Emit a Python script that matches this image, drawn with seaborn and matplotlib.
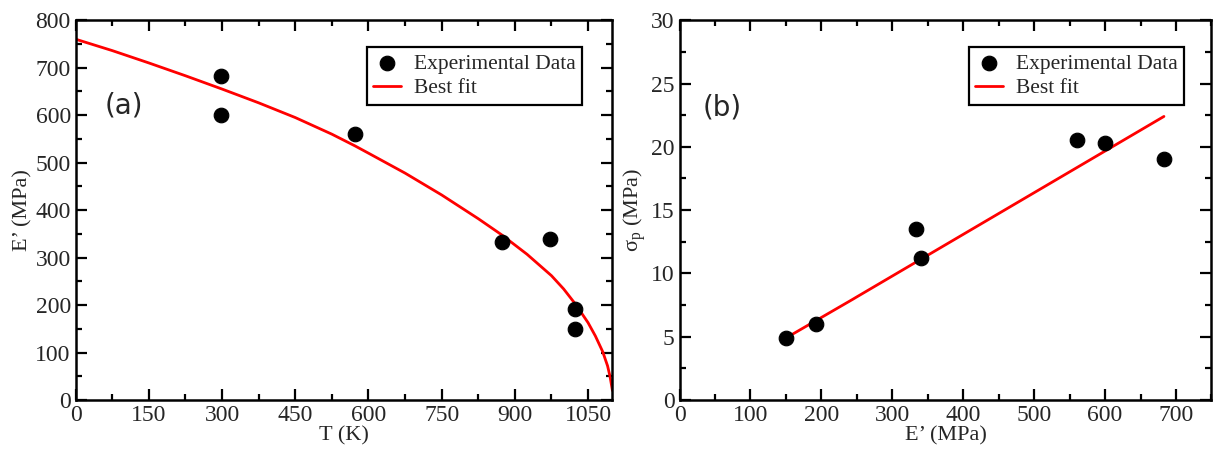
import numpy as np
import pandas as pd
import matplotlib
matplotlib.use('Agg')
import matplotlib.pyplot as plt
from matplotlib.ticker import MultipleLocator
import seaborn as sns

# panel (a): E' vs temperature
temp_k = [298, 298, 573, 873, 973, 1023, 1023]
e_mod = [683, 600, 560, 333, 340, 192, 150]
fit_t = [0, 75, 150, 225, 300, 375, 450, 525, 573, 600, 675, 750, 825, 873,
         925, 975, 1000, 1025, 1050, 1065, 1080, 1090, 1095, 1100]
fit_e = [760, 736, 710, 683, 655, 626, 595, 560, 535, 520, 478, 432, 382, 348,
         307, 262, 234, 201, 163, 135, 102, 72, 50, 20]

# panel (b): sigma_p vs E'
e_pts = [150, 192, 333, 340, 560, 600, 683]
sig_p = [4.9, 6.0, 13.5, 11.2, 20.5, 20.3, 19.0]
fit_ex = [150, 244, 250, 683]
fit_sig = [4.9, 7.95, 8.15, 22.4]

sns.set_style('ticks')
plt.rcParams['font.family'] = ['Liberation Serif', 'DejaVu Serif']

fig = plt.figure(figsize=(12.2, 4.49), dpi=100)
ax1 = fig.add_axes([0.062, 0.109, 0.440, 0.846])
ax2 = fig.add_axes([0.557, 0.109, 0.436, 0.846])

df_a = pd.DataFrame({'T': temp_k, 'E': e_mod})
df_af = pd.DataFrame({'T': fit_t, 'E': fit_e})
sns.scatterplot(data=df_a, x='T', y='E', ax=ax1, color='black', s=110,
                edgecolor='black', label='Experimental Data', zorder=3)
sns.lineplot(data=df_af, x='T', y='E', ax=ax1, color='red', lw=2,
             label='Best fit', sort=False)

df_b = pd.DataFrame({'E': e_pts, 's': sig_p})
df_bf = pd.DataFrame({'E': fit_ex, 's': fit_sig})
sns.scatterplot(data=df_b, x='E', y='s', ax=ax2, color='black', s=110,
                edgecolor='black', label='Experimental Data', zorder=3)
sns.lineplot(data=df_bf, x='E', y='s', ax=ax2, color='red', lw=2,
             label='Best fit', sort=False)

ax1.set_xlim(0, 1100)
ax1.set_ylim(0, 800)
ax1.xaxis.set_major_locator(MultipleLocator(150))
ax1.xaxis.set_minor_locator(MultipleLocator(75))
ax1.yaxis.set_major_locator(MultipleLocator(100))
ax1.yaxis.set_minor_locator(MultipleLocator(50))
ax1.set_xlabel('T (K)', fontsize=16, labelpad=0)
ax1.set_ylabel('E’ (MPa)', fontsize=16, labelpad=2)
ax1.text(60, 620, '(a)', fontsize=20, family='DejaVu Sans', va='center')

ax2.set_xlim(0, 750)
ax2.set_ylim(0, 30)
ax2.xaxis.set_major_locator(MultipleLocator(100))
ax2.xaxis.set_minor_locator(MultipleLocator(50))
ax2.yaxis.set_major_locator(MultipleLocator(5))
ax2.yaxis.set_minor_locator(MultipleLocator(2.5))
ax2.set_xlabel('E’ (MPa)', fontsize=16, labelpad=0)
ax2.set_ylabel(r'$\mathregular{\sigma_p}$ (MPa)', fontsize=16, labelpad=2)
ax2.text(33, 23.1, '(b)', fontsize=20, family='DejaVu Sans', va='center')

for ax, anchor_x in ((ax1, 0.944), (ax2, 0.949)):
    for sp in ax.spines.values():
        sp.set_visible(True)
        sp.set_linewidth(1.8)
        sp.set_color('black')
    ax.tick_params(which='both', direction='in', top=True, right=True,
                   labelsize=17, color='black')
    ax.tick_params(which='major', length=8, width=1.6)
    ax.tick_params(which='minor', length=4, width=1.6)
    leg = ax.legend(loc='upper right', fontsize=15.5, frameon=True, fancybox=False,
                    edgecolor='black', framealpha=1, borderpad=0.3,
                    handlelength=1.3, handletextpad=0.6, labelspacing=0.2,
                    borderaxespad=0, bbox_to_anchor=(anchor_x, 0.929))
    leg.get_frame().set_linewidth(1.6)

fig.savefig('out.png', dpi=100)
